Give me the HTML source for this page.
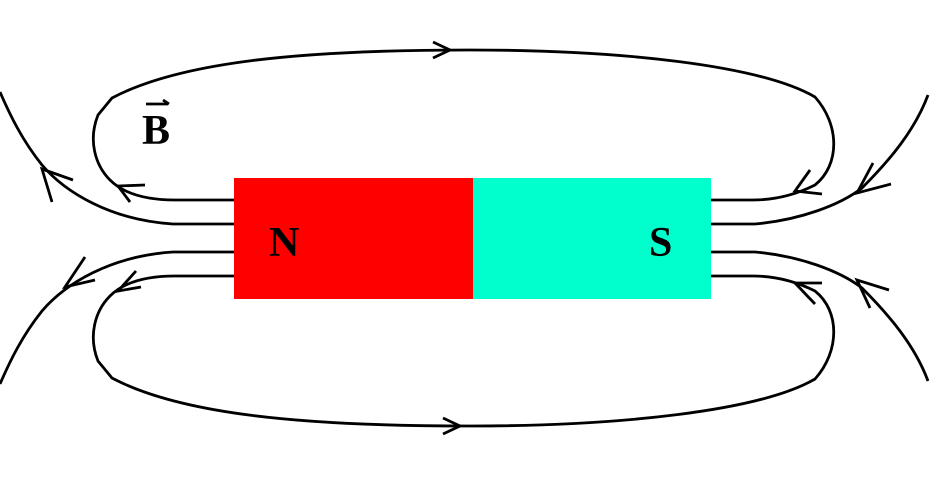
<!DOCTYPE html>
<html><head><style>body{margin:0;background:#fff}svg{display:block}</style></head>
<body>
<svg width="942" height="484" viewBox="0 0 942 484" xmlns="http://www.w3.org/2000/svg">
<rect x="234" y="178" width="239" height="121" fill="#ff0000"/>
<rect x="473" y="178" width="238" height="121" fill="#00ffcc"/>
<text x="269" y="256" font-family="Liberation Serif, serif" font-weight="bold" font-size="42">N</text>
<text x="649" y="256" font-family="Liberation Serif, serif" font-weight="bold" font-size="42">S</text>
<text x="142" y="144" font-family="Liberation Serif, serif" font-weight="bold" font-size="42">B</text>
<g fill="none" stroke="#000" stroke-width="2.8">
<line x1="146" y1="104" x2="168" y2="104"/><line x1="163" y1="100" x2="169" y2="104"/>
<g id="top">
<path d="M234,200 L175,200 C150,200 125,195 110,180 C95,165 88,140 98,115 L112,98 C180,62 300,50 470,50 C620,50 760,65 815,97 C840,125 840,165 815,185 C795,195 775,200 753,200 L711,200"/>
<path d="M234,224 L173,224 C110,220 65,192 42,165 C22,140 10,115 0,92"/>
<path d="M711,224 L755,224 C800,220 840,205 862,188 C890,160 915,130 928,95"/>
<path d="M433,42 L450,50 L433,58"/>
<path d="M145,185 L118,186 L130,202"/>
<path d="M73,180 L42,169 L52,202"/>
<path d="M822,194 L795,191 L810,170"/>
<path d="M891,184 L857,193 L873,163"/>
</g>
<g transform="translate(0,476) scale(1,-1)">
<path d="M234,200 L175,200 C150,200 125,195 110,180 C95,165 88,140 98,115 L112,98 C180,62 300,50 470,50 C620,50 760,65 815,97 C840,125 840,165 815,185 C795,195 775,200 753,200 L711,200"/>
<path d="M234,224 L173,224 C110,220 65,192 42,165 C22,140 10,115 0,92"/>
<path d="M711,224 L755,224 C800,220 840,205 862,188 C890,160 915,130 928,95"/>
<path d="M443,42 L460,50 L443,58"/>
<path d="M141,189 L118,185 L136,205"/>
<path d="M95,196 L65,189 L85,219"/>
<path d="M822,193 L795,193 L815,172"/>
<path d="M889,186 L857,196 L870,168"/>
</g>
</g>
</svg>
</body></html>
